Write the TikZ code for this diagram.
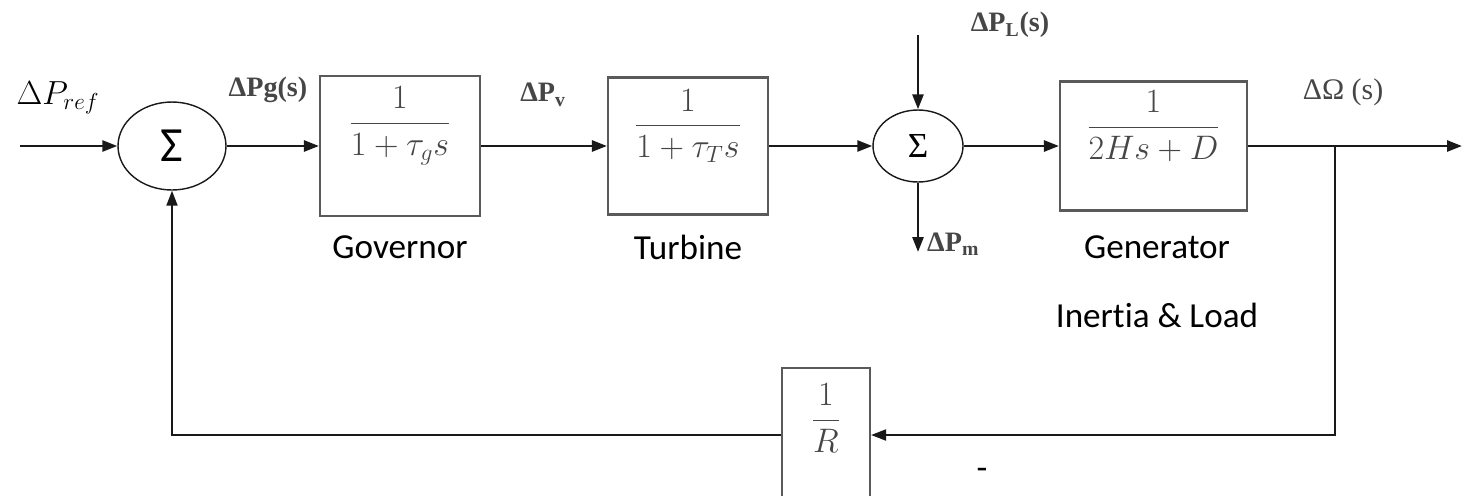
\documentclass[tikz,border=0pt]{standalone}
\usepackage{amsmath}
\usepackage{graphicx}
\usepackage{fontspec}
\usepackage{tikz}
\usetikzlibrary{shapes.geometric,arrows.meta,positioning,calc}
\newfontfamily\calib[Ligatures={NoCommon,NoContextual},RawFeature={-calt}]{Carlito}
\newfontfamily\tms{Liberation Serif}
\definecolor{ink}{RGB}{25,25,25}
\definecolor{boxgray}{RGB}{90,90,90}
\definecolor{sigtext}{RGB}{70,70,70}
\newcommand{\blkfrac}[2]{\scalebox{1.12}{$\dfrac{#1}{#2}$}}

\begin{document}
\begin{tikzpicture}[x=0.02cm,y=-0.02cm,
  font=\calib\fontsize{20}{24}\selectfont,
  blk/.style={draw=boxgray,line width=1.2pt,inner sep=0pt},
  summer/.style={ellipse,draw=ink,line width=0.8pt,inner sep=0pt},
  sig/.style={font=\tms\bfseries\fontsize{16}{19}\selectfont,text=sigtext},
  tf/.style={font=\fontsize{17.28}{21}\selectfont,text=sigtext},
  arr/.style={draw=ink,line width=1.5pt,-{Triangle[length=0.3cm,width=0.22cm]}},
  fb/.style={arr,line width=1.1pt}]
\clip (0,0) rectangle (1473,495);
% summing points and blocks
\node[summer,minimum width=2.16cm,minimum height=1.76cm] (sum1) at (172,146) {\fontsize{28}{32}\selectfont Σ};
\node[blk,minimum width=3.2cm,minimum height=2.8cm] (gov) at (400,146) {};
\node[tf] (govtf) at (400,126) {\blkfrac{1}{1+\tau_g s}};
\node[blk,minimum width=3.2cm,minimum height=2.74cm] (turb) at (688,146) {};
\node[tf] (turbtf) at (688,126) {\blkfrac{1}{1+\tau_T s}};
\node[summer,minimum width=1.8cm,minimum height=1.44cm] (sum2) at (918,146) {\tms\fontsize{20}{24}\selectfont Σ};
\node[blk,minimum width=3.74cm,minimum height=2.58cm] (gen) at (1153.5,146) {};
\node[tf] (gentf) at (1153.5,126) {\blkfrac{1}{2Hs+D}};
\node[blk,minimum width=1.76cm,minimum height=2.68cm] (rbox) at (826,435) {};
\node[tf] (rtf) at (826,418) {\blkfrac{1}{R}};
\coordinate (in) at (20,146);
\coordinate (out) at (1462,146);
\coordinate (tap) at (1335,146);
\coordinate (pl) at (918,35);
\coordinate (pm) at (918,252);
% forward path
\draw[arr] (in) -- (sum1);
\draw[arr] (sum1) -- (gov);
\draw[arr] (gov) -- (turb);
\draw[arr] (turb) -- (sum2);
\draw[arr] (sum2) -- (gen);
\draw[arr] (gen) -- (out);
\draw[arr] (pl) -- (sum2);
\draw[arr] (sum2) -- (pm);
% feedback through 1/R
\draw[fb] (tap) |- (rbox);
\draw[fb] (rbox) -| (sum1);
% signal names
\node[font=\fontsize{17.28}{21}\selectfont] (pref) at (58,98) {\scalebox{1.1}{$\Delta P_{ref}$}};
\node[sig] (pg) at (268,90) {ΔPg(s)};
\node[sig] (pv) at (543,95) {ΔP\textsubscript{v}};
\node[sig] (pls) at (1010,25) {ΔP\textsubscript{L}(s)};
\node[sig,anchor=west] (pml) at (921,244) {ΔP\textsubscript{m}};
\node[sig,font=\tms\fontsize{17}{20}\selectfont] (dw) at (1343,92) {ΔΩ (s)};
% block names
\node (govl) at (400,247) {Governor};
\node (turbl) at (688,247) {Turbine};
\node (genl) at (1157,247) {Generator};
\node (loadl) at (1157,315) {Inertia \& Load};
\node (minus) at (982,474) {-};
\end{tikzpicture}
\end{document}
